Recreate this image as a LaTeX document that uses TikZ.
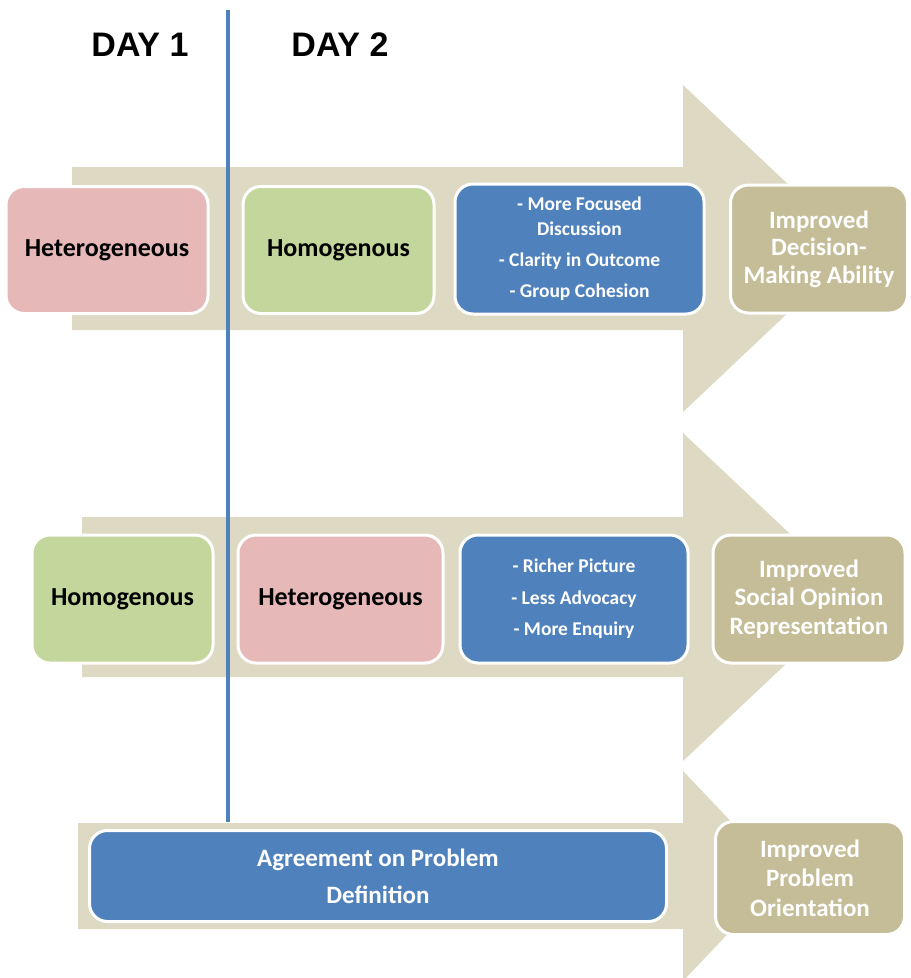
\documentclass[tikz,border=0pt]{standalone}
\usepackage{fontspec}
\setmainfont{Carlito}
\newfontfamily\arialfont{Liberation Sans}
\definecolor{arrowfill}{HTML}{DDD9C3}
\definecolor{pinkfill}{HTML}{E6B9B8}
\definecolor{greenfill}{HTML}{C3D69B}
\definecolor{bluefill}{HTML}{4F81BD}
\definecolor{tanfill}{HTML}{C4BD97}
\definecolor{dayline}{HTML}{4F81BD}
\tikzset{
  card/.style={draw=white, line width=3pt, rounded corners=18pt, inner sep=0pt, align=center, font=\bfseries},
  pinkcard/.style={card, fill=pinkfill, text=black, font=\bfseries\fontsize{26}{30}\selectfont},
  greencard/.style={card, fill=greenfill, text=black, font=\bfseries\fontsize{26}{30}\selectfont},
  bluecard/.style={card, fill=bluefill, text=white, font=\bfseries\fontsize{19.5}{25}\selectfont},
  tancard/.style={card, fill=tanfill, text=white, font=\bfseries\fontsize{25}{27.5}\selectfont},
  bigarrow/.style={fill=arrowfill, draw=none},
  daylabel/.style={font=\arialfont\bfseries\fontsize{34}{38}\selectfont, text=black}
}
\begin{document}
\begin{tikzpicture}[x=1pt,y=-1pt]
\useasboundingbox (0,0) rectangle (911,978);
\fill[white] (0,0) rectangle (911,978);
% big arrows
\fill[bigarrow] (72,167) -- (683,167) -- (683,85) -- (856,248.5) -- (683,412) -- (683,330) -- (72,330) -- cycle;
\fill[bigarrow] (82,517) -- (683,517) -- (683,433) -- (857,597) -- (683,761) -- (683,677) -- (82,677) -- cycle;
\fill[bigarrow] (78,823) -- (683,823) -- (683,771) -- (783,876) -- (683,981) -- (683,929) -- (78,929) -- cycle;
% day divider
\coordinate (lineTop) at (228,10);
\coordinate (lineBot) at (228,822);
\draw[dayline, line width=4pt] (lineTop) -- (lineBot);
\node[daylabel] (day1) at (140,45) {DAY 1};
\node[daylabel] (day2) at (340,45) {DAY 2};
% row 1
\node[pinkcard, minimum width=202pt, minimum height=127pt] (r1a) at (107,250) {Heterogeneous};
\node[greencard, minimum width=191pt, minimum height=127pt] (r1b) at (338.5,250) {Homogenous};
\node[bluecard, minimum width=249pt, minimum height=130pt] (r1c) at (579.5,249) {- More Focused\\Discussion\\[6pt]- Clarity in Outcome\\[6pt]- Group Cohesion};
\node[tancard, minimum width=177pt, minimum height=128pt] (r1d) at (819,249) {Improved\\Decision-\\Making Ability};
% row 2
\node[greencard, minimum width=181pt, minimum height=128pt] (r2a) at (122.5,599) {Homogenous};
\node[pinkcard, minimum width=205pt, minimum height=128pt] (r2b) at (340.5,599) {Heterogeneous};
\node[bluecard, font=\bfseries\fontsize{19.5}{31.5}\selectfont, minimum width=228pt, minimum height=128pt] (r2c) at (574,599) {- Richer Picture\\- Less Advocacy\\- More Enquiry};
\node[tancard, font=\bfseries\fontsize{25}{28.5}\selectfont, minimum width=192pt, minimum height=128pt] (r2d) at (809,599) {Improved\\Social Opinion\\Representation};
% row 3
\node[bluecard, font=\bfseries\fontsize{25}{37}\selectfont, minimum width=577pt, minimum height=91pt] (r3a) at (378,876) {Agreement on Problem\\Definition};
\node[tancard, font=\bfseries\fontsize{25}{29.5}\selectfont, minimum width=189pt, minimum height=113pt] (r3b) at (810,878) {Improved\\Problem\\Orientation};
\end{tikzpicture}
\end{document}
